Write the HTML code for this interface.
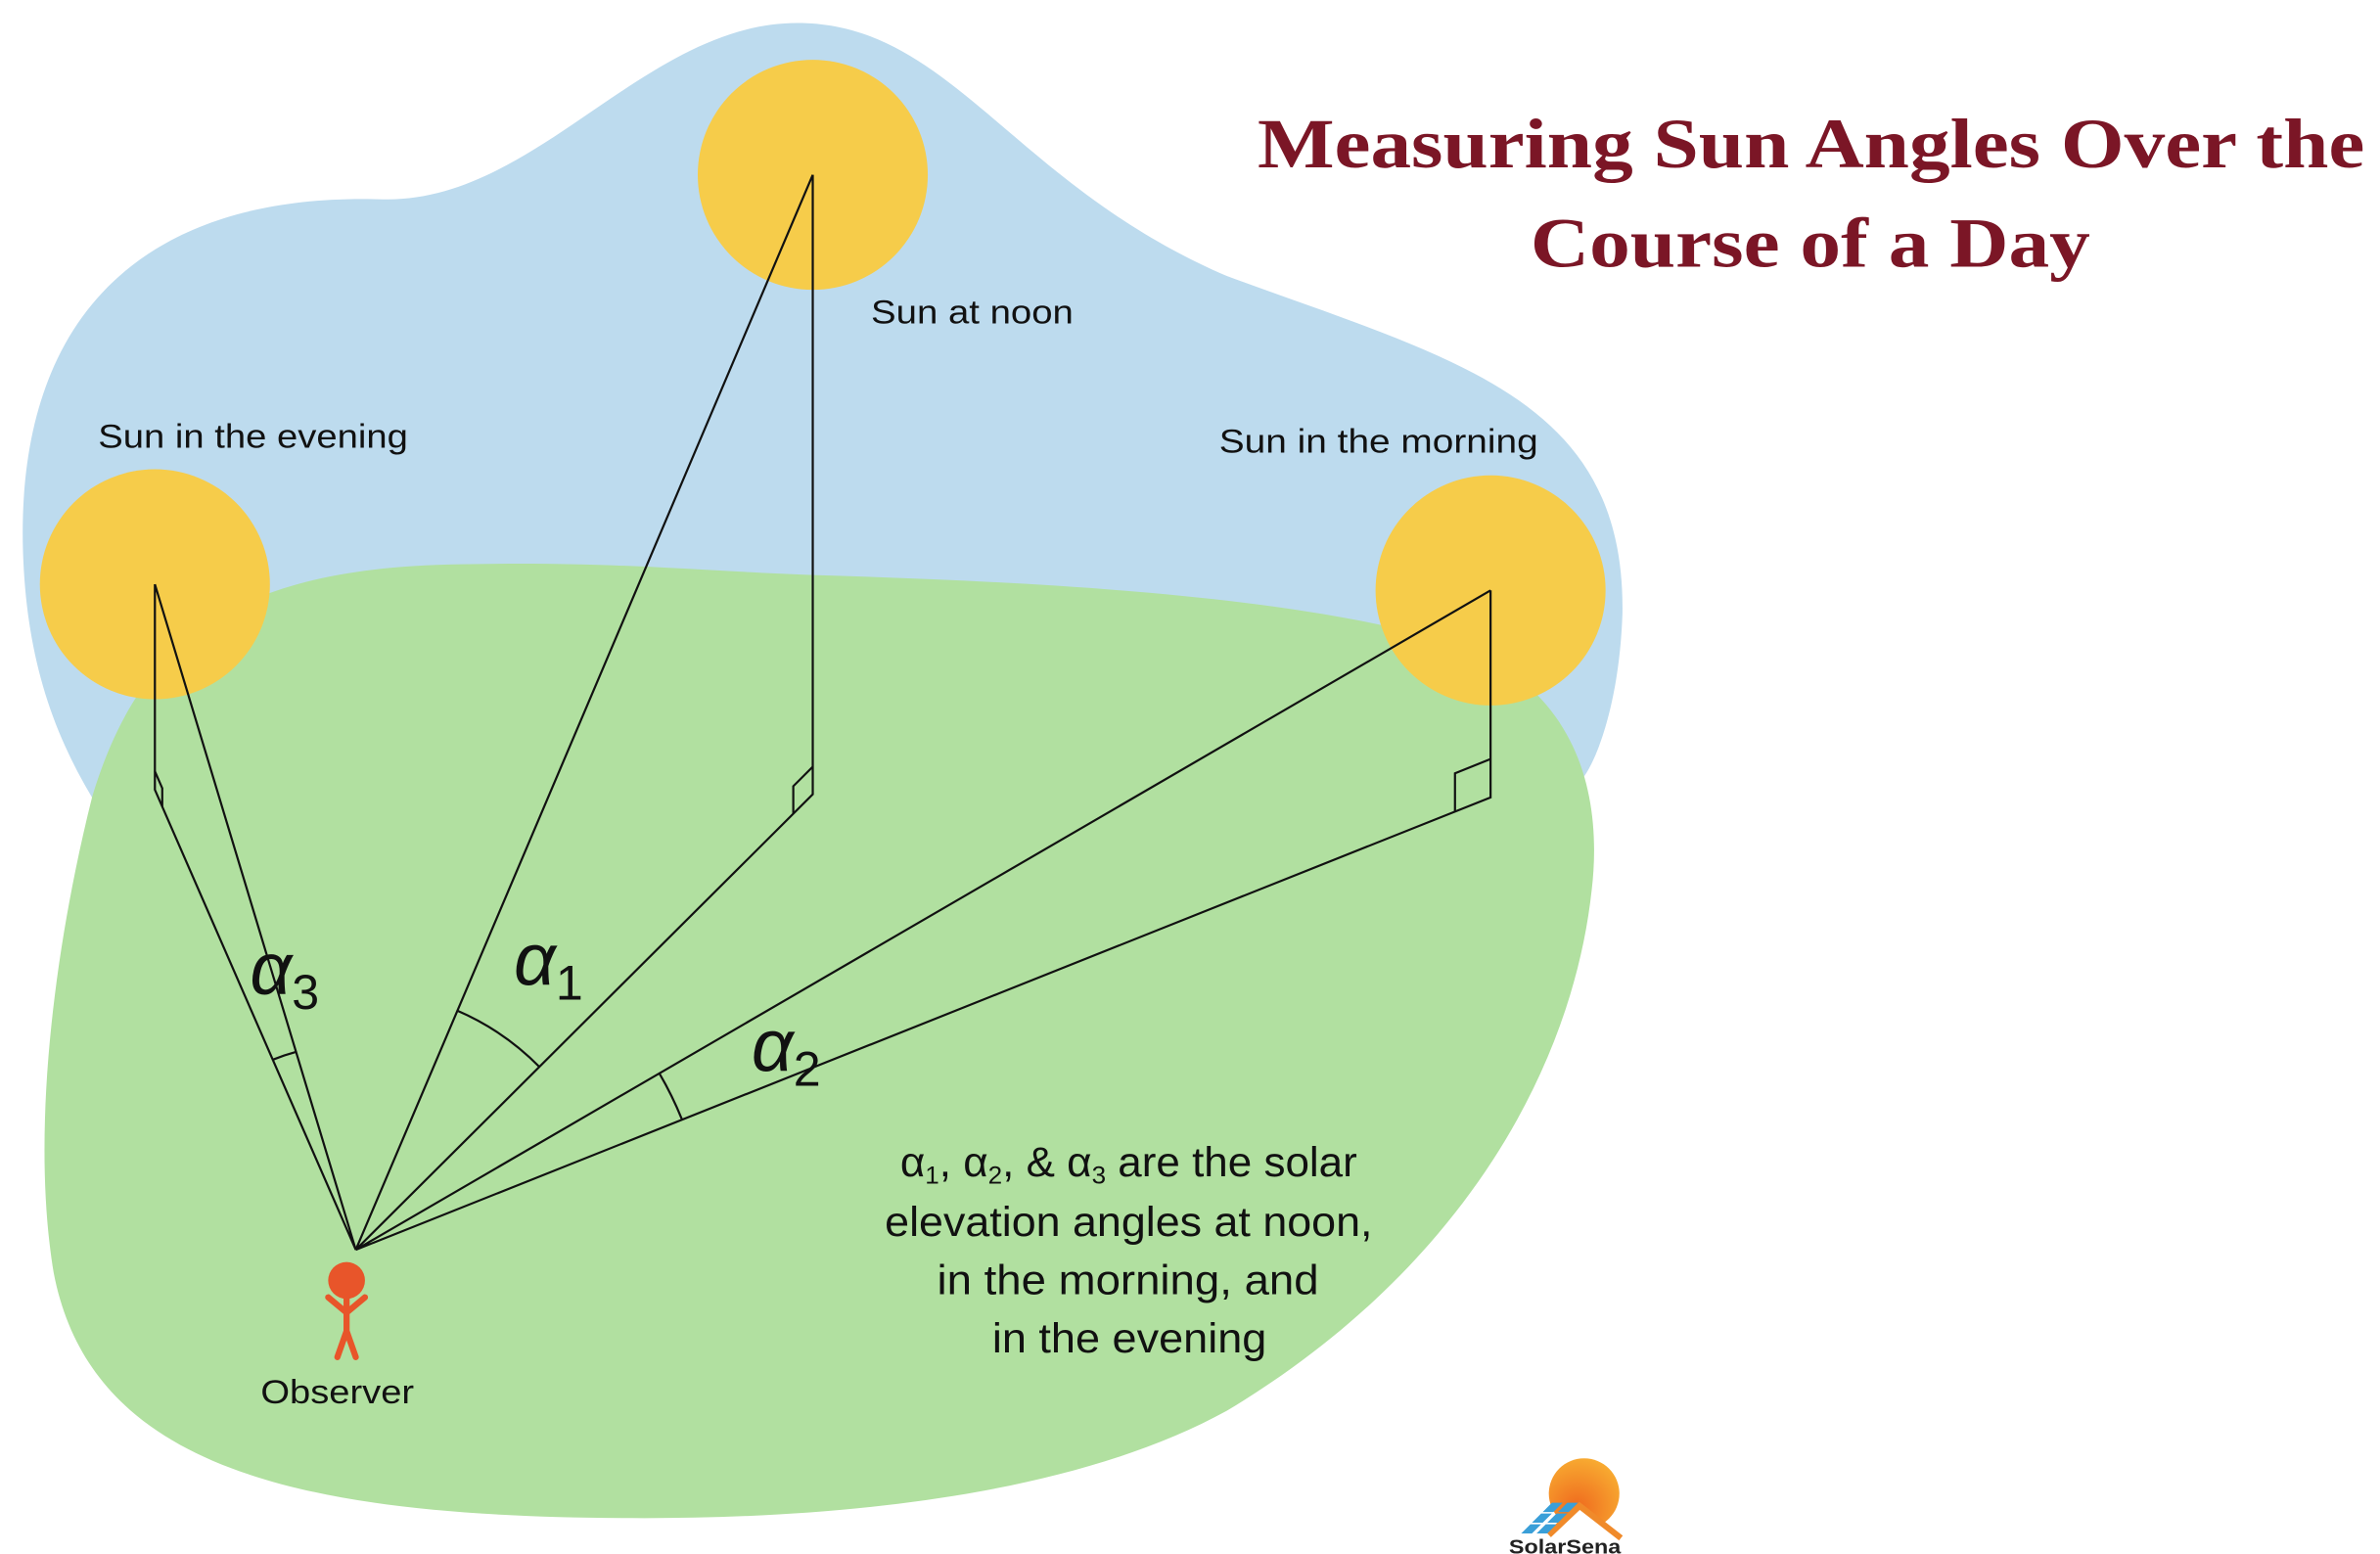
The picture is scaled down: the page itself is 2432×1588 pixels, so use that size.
<!DOCTYPE html>
<html><head><meta charset="utf-8"><style>html,body{margin:0;padding:0;background:#fff}svg{display:block}</style></head>
<body>
<svg width="2432" height="1588" viewBox="0 0 1552 1013.4" xmlns="http://www.w3.org/2000/svg">
<defs>
<radialGradient id="lg" cx="0.4" cy="0.7" r="0.8"><stop offset="0" stop-color="#ef6a1e"/><stop offset="1" stop-color="#f9b233"/></radialGradient>
</defs>
<path d="M15,360 C10,200 100,125 250,130 C350,132 420,15 520,15 C620,15 660,120 800,180 C950,235 1060,260 1058,400 C1056,460 1040,500 1030,510 L1000,700 L100,700 L60,520 C30,470 17,420 15,360 Z" fill="#bddbee"/>
<path d="M60,520 C90,420 150,370 300,368 C400,366 450,372 530,375 C700,380 850,390 950,420 C1030,450 1045,520 1038,580 C1025,700 950,830 800,920 C700,975 550,990 420,990 C200,990 60,960 35,830 C20,740 35,620 60,520 Z" fill="#b1e0a0"/>
<circle cx="530" cy="114" r="75" fill="#f6cc4a"/>
<circle cx="101" cy="381" r="75" fill="#f6cc4a"/>
<circle cx="972" cy="385" r="75" fill="#f6cc4a"/>
<g stroke="#111" stroke-width="1.4" fill="none">
<path d="M530,114 L530,518 L232,815 L530,114"/>
<path d="M101,381 L101,515 L232,815 L101,381"/>
<path d="M972,385 L972,520 L232,815 L972,385"/>
<path d="M530,500 L517.3,512.7 L517.3,530.7"/>
<path d="M101,503 L105.8,514 L105.8,526"/>
<path d="M972,495 L948.8,504.3 L948.8,529.3"/>
<path d="M298,659 A169,169 0 0 1 351.7,695.7"/>
<path d="M430,700 A229,229 0 0 1 444.7,730"/>
<path d="M178,691 A135,135 0 0 1 193,686"/>
</g>
<g font-family="Liberation Sans, sans-serif" fill="#111">
<text x="568" y="211" font-size="22" textLength="132" lengthAdjust="spacingAndGlyphs">Sun at noon</text>
<text x="64" y="292" font-size="22" textLength="202" lengthAdjust="spacingAndGlyphs">Sun in the evening</text>
<text x="795" y="295" font-size="22" textLength="208" lengthAdjust="spacingAndGlyphs">Sun in the morning</text>
<text x="170" y="915" font-size="22" textLength="100" lengthAdjust="spacingAndGlyphs">Observer</text>
<g font-size="27">
<text x="587" y="767" textLength="298" lengthAdjust="spacingAndGlyphs">α<tspan font-size="16" dy="5">1</tspan><tspan dy="-5">, α</tspan><tspan font-size="16" dy="5">2</tspan><tspan dy="-5">, &amp; α</tspan><tspan font-size="16" dy="5">3</tspan><tspan dy="-5"> are the solar</tspan></text>
<text x="577" y="806" textLength="318" lengthAdjust="spacingAndGlyphs">elevation angles at noon,</text>
<text x="611" y="844" textLength="249" lengthAdjust="spacingAndGlyphs">in the morning, and</text>
<text x="647" y="882" textLength="179" lengthAdjust="spacingAndGlyphs">in the evening</text>
</g>
<g font-size="48" font-style="italic">
<text x="335" y="642">α<tspan font-style="normal" font-size="32" dy="10">1</tspan></text>
<text x="163" y="648">α<tspan font-style="normal" font-size="32" dy="10">3</tspan></text>
<text x="490" y="698">α<tspan font-style="normal" font-size="32" dy="10">2</tspan></text>
</g>
</g>
<g font-family="Liberation Serif, serif" font-weight="bold" fill="#7b1626" font-size="46">
<text x="820" y="109" textLength="722" lengthAdjust="spacingAndGlyphs">Measuring Sun Angles Over the</text>
<text x="998" y="174" textLength="365" lengthAdjust="spacingAndGlyphs">Course of a Day</text>
</g>
<circle cx="226" cy="835" r="12" fill="#e8552a"/>
<g stroke="#e8552a" stroke-width="4" fill="none" stroke-linecap="round">
<path d="M226,846 L226,868 M226,868 L220,885 M226,868 L232,885 M226,856 L214,846 M226,856 L238,846"/>
</g>
<circle cx="1033" cy="974" r="23" fill="url(#lg)"/>
<path d="M1010,1001 L1030,982 L1057,1003" stroke="#f08a2a" stroke-width="4" fill="#fff"/>
<g fill="#3a9fd8">
<path d="M1006,986 l6,-6 h7 l-6,6z M1016,986 l6,-6 h7 l-6,6z M999,993 l6,-6 h7 l-6,6z M1009,993 l6,-6 h7 l-6,6z M992,1000 l6,-6 h7 l-6,6z M1002,1000 l6,-6 h7 l-6,6z"/>
</g>
<text x="984" y="1013" font-family="Liberation Sans, sans-serif" font-weight="bold" font-size="13" fill="#222" textLength="73" lengthAdjust="spacingAndGlyphs">SolarSena</text>
</svg>
</body></html>
